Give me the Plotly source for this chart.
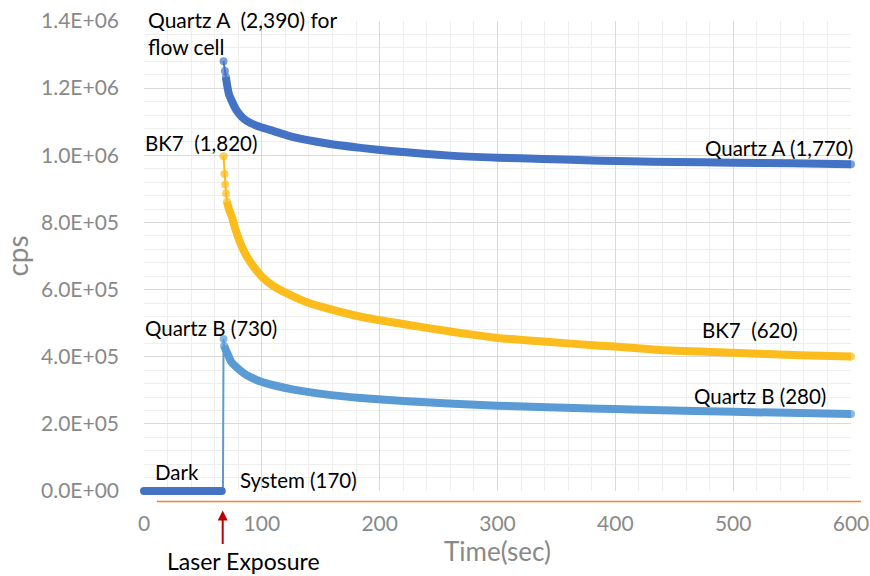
import plotly.graph_objects as go

# ---------------- data (time in s, counts per second) ----------------
dark_t = [0, 2, 4, 6, 8, 10, 12, 14, 16, 18, 20, 22, 24, 26, 28, 30, 32, 34, 36, 38, 40,
          42, 44, 46, 48, 50, 52, 54, 56, 58, 60, 62, 64, 66]
dark_v = [170, 170, 170, 170, 170, 170, 170, 170, 170, 170, 170, 170, 170, 170, 170, 170, 170,
          170, 170, 170, 170, 170, 170, 170, 170, 170, 170, 170, 170, 170, 170, 170, 170, 170]

qa_t = [67.5, 68.7, 69.5, 70.6, 72, 75, 77.7, 80, 84.7, 90, 98.9, 110, 127, 155.5,
        184, 212, 260, 300, 339, 387, 413, 450, 500, 550, 600]
qa_v = [1.280e6, 1.251e6, 1.233e6, 1.208e6, 1.183e6, 1.158e6, 1.139e6, 1.127e6, 1.109e6,
        1.097e6, 1.084e6, 1.072e6, 1.054e6, 1.035e6, 1.022e6, 1.012e6, 0.999e6, 0.993e6,
        0.989e6, 0.984e6, 0.982e6, 0.980e6, 0.978e6, 0.976e6, 0.973e6]

bk_t = [67.5, 68.3, 68.9, 69.6, 70.5, 72, 74.5, 78, 81.8, 87, 93.1, 100.2, 110, 127, 140,
        155.5, 184, 223.5, 260, 280, 300, 339, 387, 413, 438, 500, 557, 600]
bk_v = [0.997e6, 0.944e6, 0.913e6, 0.886e6, 0.861e6, 0.840e6, 0.817e6, 0.775e6, 0.738e6,
        0.700e6, 0.668e6, 0.638e6, 0.610e6, 0.579e6, 0.560e6, 0.544e6, 0.519e6, 0.495e6,
        0.475e6, 0.465e6, 0.456e6, 0.445e6, 0.433e6, 0.427e6, 0.420e6, 0.412e6, 0.404e6,
        0.401e6]

qb_t = [67, 67.5, 68, 70.6, 74, 77.7, 84.7, 90, 98.9, 110, 127, 155.5, 184, 223.5, 300,
        387, 413, 500, 600]
qb_v = [170, 0.453e6, 0.432e6, 0.411e6, 0.385e6, 0.371e6, 0.351e6, 0.340e6, 0.326e6,
        0.315e6, 0.302e6, 0.287e6, 0.277e6, 0.267e6, 0.254e6, 0.245e6, 0.243e6, 0.236e6,
        0.229e6]

y_ticks = [0, 2e5, 4e5, 6e5, 8e5, 1.0e6, 1.2e6, 1.4e6]
y_tick_text = ["0.0E+00", "2.0E+05", "4.0E+05", "6.0E+05", "8.0E+05", "1.0E+06", "1.2E+06", "1.4E+06"]
x_ticks = [0, 100, 200, 300, 400, 500, 600]

C_QA = "#4472C4"
C_BK = "#FBBC1C"
C_QB = "#5B9BD5"

FONT = "Lato"

fig = go.Figure()


def add_series(t, v, color, k, first_marker=True):
    head_t, head_v = t[:k + 1], v[:k + 1]
    sizes = [8] * len(head_t)
    if not first_marker:
        sizes[0] = 0
    # thin line + discrete markers (the sparse start of each curve)
    fig.add_trace(go.Scatter(x=head_t, y=head_v, mode="lines+markers",
                             line=dict(color=color, width=2),
                             marker=dict(color=color, size=sizes, line=dict(width=0)),
                             cliponaxis=False, showlegend=False, hoverinfo="skip"))
    # dense region, drawn as a thick band with a round end
    tail_t, tail_v = t[k:], v[k:]
    tail_sizes = [0] * len(tail_t)
    tail_sizes[-1] = 8
    fig.add_trace(go.Scatter(x=tail_t, y=tail_v, mode="lines+markers",
                             line=dict(color=color, width=8, shape="spline", smoothing=0.6),
                             marker=dict(color=color, size=tail_sizes, line=dict(width=0)),
                             cliponaxis=False, showlegend=False, hoverinfo="skip"))


add_series(qb_t, qb_v, C_QB, 2, first_marker=False)
add_series(bk_t, bk_v, C_BK, 4)
add_series(qa_t, qa_v, C_QA, 2)

# dark counts: dense markers (not clipped at the axis)
fig.add_trace(go.Scatter(x=dark_t, y=dark_v, mode="markers",
                         marker=dict(color=C_QA, size=8, line=dict(width=0)),
                         cliponaxis=False, showlegend=False, hoverinfo="skip"))

# plot area in pixels
L, R, T, B = 144, 851, 21, 491.5


def px(x):
    return (x - L) / (R - L)


def py(y):
    return (B - y) / (B - T)


def label(text, x, y, xanchor="left", size=20.5, color="black"):
    fig.add_annotation(text=text, x=px(x), y=py(y), xref="paper", yref="paper",
                       xanchor=xanchor, yanchor="middle", showarrow=False,
                       align="left", font=dict(family=FONT, size=size, color=color))


label("Quartz A  (2,390) for<br>flow cell", 146, 33, size=21)
label("BK7  (1,820)", 143, 143)
label("Quartz A (1,770)", 855, 148, "right")
label("BK7  (620)", 800, 330, "right")
label("Quartz B (280)", 828, 396, "right")
label("Quartz B (730)", 143, 328)
label("Dark", 153, 472)
label("System (170)", 238, 480)
label("Laser Exposure", 243, 562, "center", size=23)

# red arrow for laser exposure
fig.add_annotation(x=px(222.7), y=py(511), xref="paper", yref="paper",
                   ax=0, ay=35, showarrow=True, arrowhead=2, arrowsize=1,
                   arrowwidth=2, arrowcolor="#C00000", text="")

# orange line under the axis
fig.add_shape(type="line", xref="paper", yref="paper",
              x0=px(157), x1=px(861), y0=py(502), y1=py(502),
              line=dict(color="#F4842C", width=1.5))

fig.update_layout(
    width=870, height=576,
    margin=dict(l=L, r=870 - R, t=T, b=576 - B, autoexpand=False),
    paper_bgcolor="white", plot_bgcolor="white",
    font=dict(family=FONT),
    xaxis=dict(range=[0, 600], tickvals=x_ticks, showline=False, zeroline=False,
               automargin=False,
               showgrid=True, gridcolor="#D9D9D9", gridwidth=1,
               minor=dict(dtick=20, showgrid=True, gridcolor="#EEEEEE", gridwidth=1),
               tickfont=dict(family=FONT, size=21, color="#898989"),
               ticks="", ticklabelstandoff=18,
               title=dict(text="Time(sec)", font=dict(family=FONT, size=26, color="#898989"),
                          standoff=4)),
    yaxis=dict(range=[0, 1.4e6], tickvals=y_ticks, ticktext=y_tick_text,
               showline=False, zeroline=False, automargin=False,
               showgrid=True, gridcolor="#D9D9D9", gridwidth=1,
               minor=dict(dtick=4e4, showgrid=True, gridcolor="#EEEEEE", gridwidth=1),
               tickfont=dict(family=FONT, size=21, color="#898989"),
               ticks="", ticklabelstandoff=24,
               title=dict(text="cps", font=dict(family=FONT, size=28, color="#898989"),
                          standoff=10)),
)

fig.write_html("out.html")
